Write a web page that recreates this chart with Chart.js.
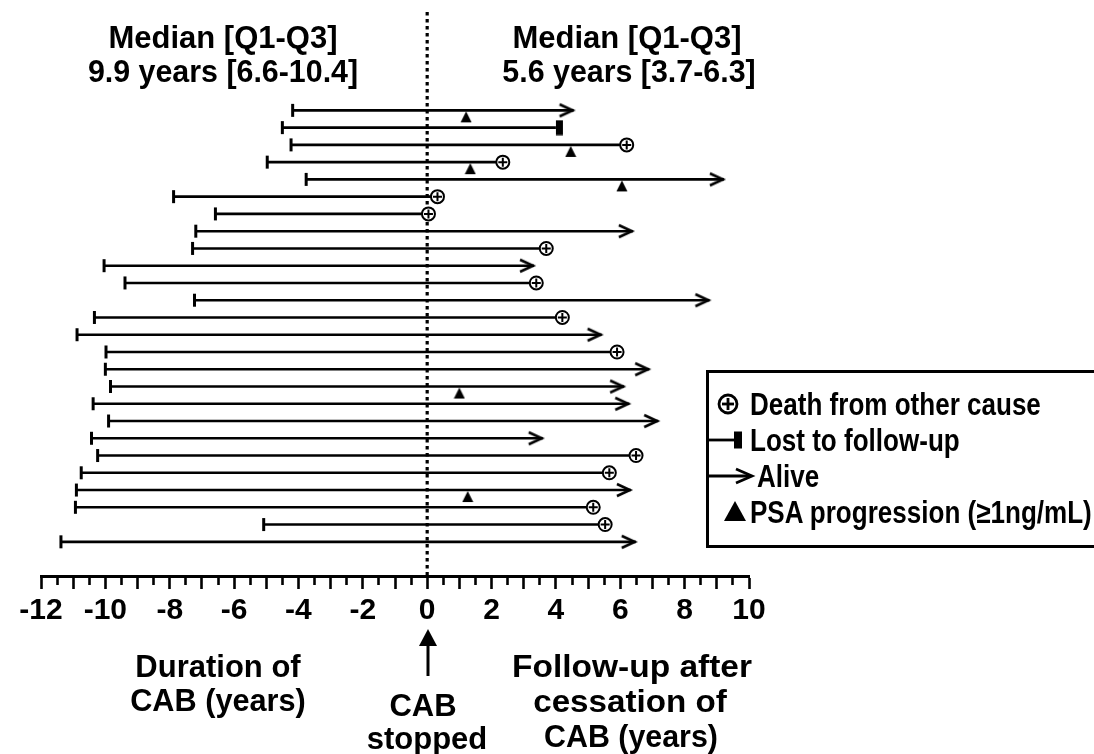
<!DOCTYPE html>
<html>
<head>
<meta charset="utf-8">
<script src="https://cdn.jsdelivr.net/npm/chart.js@4.4.1/dist/chart.umd.min.js"></script>
<style>
  body { margin: 0; background: #fff; }
  #wrap { position: relative; width: 1094px; height: 754px; overflow: hidden;
          font-family: "Liberation Sans", Arial, sans-serif; font-weight: bold; color: #000; }
  #chart { position: absolute; left: 0; top: 0; }
  .lbl { position: absolute; white-space: nowrap; line-height: 1; }
  #legend { position: absolute; left: 706px; top: 370px; width: 420px; height: 178px;
            border: 3px solid #000; box-sizing: border-box; }
  svg.deco { position: absolute; left: 0; top: 0; overflow: visible; }
</style>
</head>
<body>
<div id="wrap">
  <canvas id="chart" width="1094" height="754"></canvas>
  <div id="legend"></div>
  <svg class="deco" width="1094" height="754" id="deco"></svg>
</div>
<script>
// one row per patient, top to bottom
const patients = ['1','2','3','4','5','6','7','8','9','10','11','12','13',
                  '14','15','16','17','18','19','20','21','22','23','24','25','26'];
// start of CAB (years before stopping)
const cabStart = [-4.18, -4.50, -4.23, -4.97, -3.76, -7.88, -6.58, -7.19, -7.29, -10.04, -9.39, -7.23, -10.34,
                  -10.88, -9.98, -10.00, -9.84, -10.38, -9.90, -10.43, -10.24, -10.75, -10.90, -10.93, -5.08, -11.38];
// end of follow-up after CAB was stopped (years)
const followEnd = [4.55, 4.00, 6.20, 2.35, 9.22, 0.32, 0.04, 6.39, 3.70, 3.32, 3.39, 8.77, 4.20,
                   5.42, 5.90, 6.90, 6.12, 6.28, 7.18, 3.59, 6.49, 5.66, 6.33, 5.16, 5.53, 6.48];
// outcome at the end of follow-up
const outcome = ['alive', 'lost', 'death', 'death', 'alive', 'death', 'death', 'alive', 'death', 'alive', 'death', 'alive', 'death',
                 'alive', 'death', 'alive', 'alive', 'alive', 'alive', 'alive', 'death', 'death', 'alive', 'death', 'death', 'alive'];
// PSA progression events
const psaPatient = ['1', '3', '4', '5', '17', '23'];
const psaTime = [1.21, 4.46, 1.34, 6.05, 1.00, 1.26];

const xTicksMin = -12, xTicksMax = 10;
const yTop = -4.7, yBottom = 27.98;   // row scale range (rows are 1..26)

const leftTitle = ['Median [Q1-Q3]', '9.9 years [6.6-10.4]'];
const rightTitle = ['Median [Q1-Q3]', '5.6 years [3.7-6.3]'];
const legendLabels = ['Death from other cause', 'Lost to follow-up', 'Alive', 'PSA progression (\u22651ng/mL)'];

// marker images
function arrowHead() {
  const c = document.createElement('canvas');
  c.width = 32; c.height = 18;
  const g = c.getContext('2d');
  g.strokeStyle = '#000'; g.lineWidth = 2.6;
  g.beginPath(); g.moveTo(2, 3); g.lineTo(15, 9); g.lineTo(2, 15); g.stroke();
  return c;
}
function lostBar() {
  const c = document.createElement('canvas');
  c.width = 16; c.height = 16;
  const g = c.getContext('2d');
  g.fillStyle = '#000'; g.fillRect(8, 0.5, 7, 15);
  return c;
}
function psaTriangle() {
  const c = document.createElement('canvas');
  c.width = 12; c.height = 28;
  const g = c.getContext('2d');
  g.fillStyle = '#000';
  g.beginPath(); g.moveTo(6, 15); g.lineTo(11.5, 26); g.lineTo(0.5, 26); g.closePath(); g.fill();
  return c;
}

const rowY = p => patients.indexOf(p) + 1;

const datasets = [];
// dotted line at CAB stop
datasets.push({
  data: [{ x: 0, y: yTop }, { x: 0, y: yBottom }],
  showLine: true, borderColor: '#000', borderWidth: 3.2, borderDash: [3.5, 3.5],
  pointRadius: 0, order: 10
});
// follow-up lines
patients.forEach((p, i) => {
  datasets.push({
    data: [{ x: cabStart[i], y: rowY(p) }, { x: followEnd[i], y: rowY(p) }],
    showLine: true, borderColor: '#000', borderWidth: 2.6, pointRadius: 0, order: 5
  });
});
// start caps
datasets.push({
  data: patients.map((p, i) => ({ x: cabStart[i], y: rowY(p) })),
  pointStyle: 'line', rotation: 90, pointRadius: 6.5, borderWidth: 3, borderColor: '#000', order: 4
});
const endsOf = kind => patients.map((p, i) => ({ x: followEnd[i], y: rowY(p), k: outcome[i] }))
                               .filter(d => d.k === kind);
// alive
datasets.push({ data: endsOf('alive'), pointStyle: arrowHead(), order: 3 });
// lost
datasets.push({ data: endsOf('lost'), pointStyle: lostBar(), order: 3 });
// death: circle + cross
datasets.push({ data: endsOf('death'), pointStyle: 'circle', pointRadius: 6.5, borderWidth: 2,
                borderColor: '#000', backgroundColor: '#fff', order: 2 });
datasets.push({ data: endsOf('death'), pointStyle: 'cross', pointRadius: 4.5, borderWidth: 2,
                borderColor: '#000', order: 1 });
// PSA progression
datasets.push({ data: psaPatient.map((p, i) => ({ x: psaTime[i], y: rowY(p) })),
                pointStyle: psaTriangle(), order: 1 });

new Chart(document.getElementById('chart'), {
  type: 'scatter',
  data: { datasets: datasets },
  options: {
    responsive: false,
    animation: false,
    events: [],
    layout: { padding: { left: 41, right: 345, top: 12, bottom: 121 } },
    plugins: { legend: { display: false }, tooltip: { enabled: false } },
    scales: {
      x: {
        type: 'linear', min: xTicksMin, max: xTicksMax,
        border: { display: true, color: '#000', width: 3 },
        grid: {
          drawOnChartArea: false, drawTicks: true, tickLength: 13, tickColor: '#000', tickWidth: 2.6,
          tickBorderDash: ctx => (Number.isInteger(ctx.tick.value) ? [] : [7, 40])
        },
        ticks: {
          stepSize: 0.5, autoSkip: false, maxRotation: 0, padding: 4, color: '#000',
          font: { family: 'Liberation Sans', weight: 'bold', size: 30 },
          callback: v => (v % 2 === 0 ? String(v) : '')
        }
      },
      y: { type: 'linear', min: yTop, max: yBottom, reverse: true, display: false }
    }
  }
});

// text annotations
const wrap = document.getElementById('wrap');
function putText(txt, cx, cy, size, sx, align) {
  const d = document.createElement('div');
  d.className = 'lbl';
  d.textContent = txt;
  d.style.fontSize = size + 'px';
  d.style.left = cx + 'px';
  d.style.top = cy + 'px';
  if (align === 'left') {
    d.style.transformOrigin = '0 50%';
    d.style.transform = 'translate(0,-50%) scaleX(' + sx + ')';
  } else {
    d.style.transform = 'translate(-50%,-50%) scaleX(' + sx + ')';
  }
  wrap.appendChild(d);
}
putText(leftTitle[0], 223, 37, 31, 1.0);
putText(leftTitle[1], 223, 71, 31, 0.98);
putText(rightTitle[0], 627, 37, 31, 1.0);
putText(rightTitle[1], 629, 71, 31, 0.98);
putText('Duration of', 218, 666, 31, 1.0);
putText('CAB (years)', 218, 700, 31, 0.99);
putText('CAB', 423, 705, 31, 1.0);
putText('stopped', 427, 738, 31, 1.0);
putText('Follow-up after', 632, 666, 31, 1.08);
putText('cessation of', 630, 701, 31, 1.07);
putText('CAB (years)', 631, 736, 31, 0.98);

const legendY = [404, 440, 476, 512];
const legendX = [750, 750, 757, 750];
legendLabels.forEach((t, i) => putText(t, legendX[i], legendY[i], 31, 0.84, 'left'));

// arrow under 0 and legend symbols
const deco = document.getElementById('deco');
const ly = legendY;
deco.innerHTML =
  '<line x1="428" y1="644" x2="428" y2="676" stroke="#000" stroke-width="3"/>' +
  '<polygon points="428,629 419,646 437,646" fill="#000"/>' +
  '<circle cx="728" cy="' + ly[0] + '" r="9" fill="#fff" stroke="#000" stroke-width="2.8"/>' +
  '<line x1="728" y1="' + (ly[0] - 6) + '" x2="728" y2="' + (ly[0] + 6) + '" stroke="#000" stroke-width="2.8"/>' +
  '<line x1="722" y1="' + ly[0] + '" x2="734" y2="' + ly[0] + '" stroke="#000" stroke-width="2.8"/>' +
  '<line x1="707" y1="' + ly[1] + '" x2="735" y2="' + ly[1] + '" stroke="#000" stroke-width="2.8"/>' +
  '<rect x="734" y="' + (ly[1] - 8.5) + '" width="8" height="17" fill="#000"/>' +
  '<line x1="707" y1="' + ly[2] + '" x2="751" y2="' + ly[2] + '" stroke="#000" stroke-width="2.8"/>' +
  '<polyline points="736,' + (ly[2] - 7) + ' 752,' + ly[2] + ' 736,' + (ly[2] + 7) + '" fill="none" stroke="#000" stroke-width="2.8"/>' +
  '<polygon points="735,' + (ly[3] - 11) + ' 746,' + (ly[3] + 9) + ' 724,' + (ly[3] + 9) + '" fill="#000"/>';
</script>
</body>
</html>
